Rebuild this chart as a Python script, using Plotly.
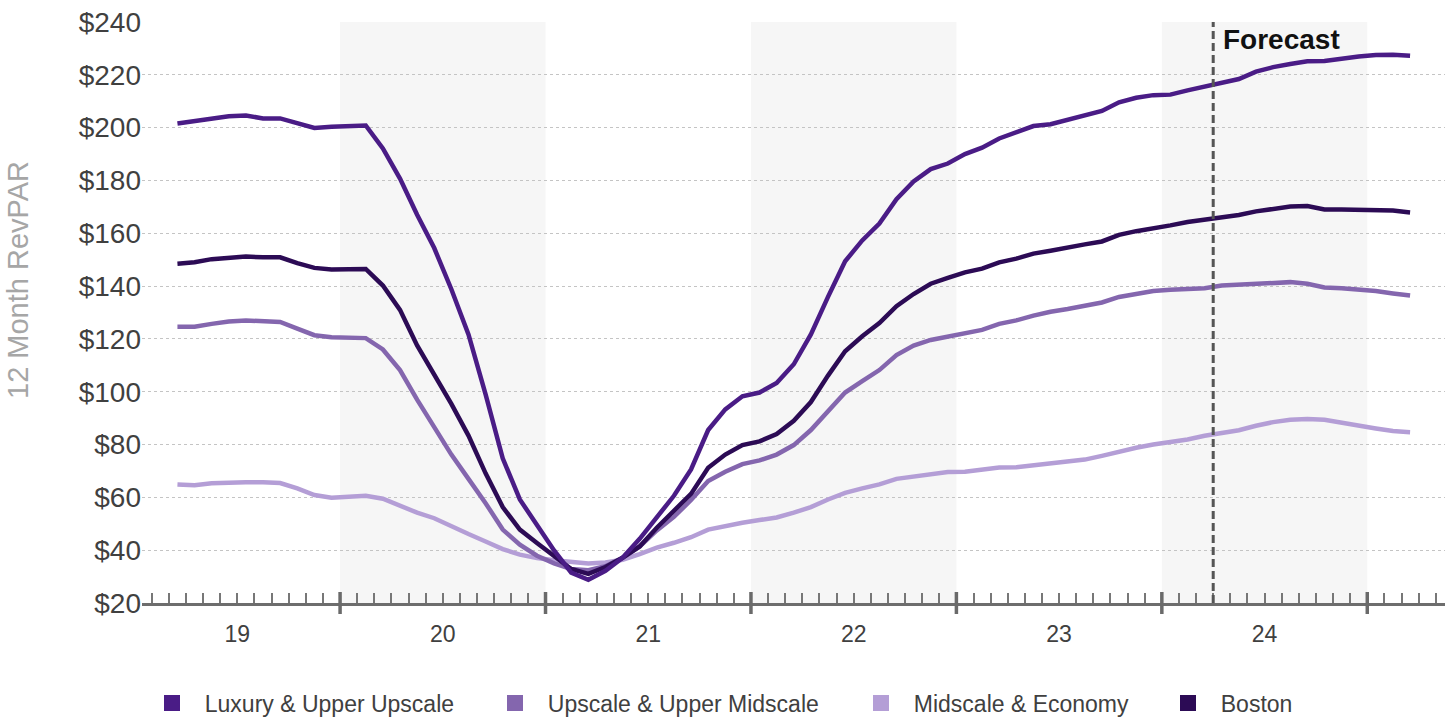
import plotly.graph_objects as go

# Month offsets from Jan 2019 (Mar 2019 .. Mar 2025); each value plotted mid-month
months = list(range(2, 75))

luxury = [201.6, 202.5, 203.8, 204.3, 204.6, 203.5, 203.5, 201.6, 199.9, 200.3, 200.6, 200.8,
          192.1, 180.7, 167.0, 154.4, 138.8, 121.7, 99.0, 74.8, 59.2, 49.4, 39.9, 31.5,
          28.8, 32.2, 37.1, 44.3, 52.7, 60.6, 70.6, 85.5, 93.3, 98.3, 99.7, 103.3,
          110.4, 121.7, 135.9, 149.4, 157.3, 163.7, 172.9, 179.6, 184.3, 186.4, 190.0, 192.4,
          195.9, 198.2, 200.6, 201.3, 203.0, 204.9, 206.3, 209.6, 211.3, 212.3, 212.5, 214.1,
          215.5, 217.3, 218.4, 221.2, 222.9, 224.1, 225.1, 225.2, 226.2, 226.9, 227.5, 227.6,
          227.2]

upscale = [124.6, 124.6, 125.7, 126.6, 127.0, 126.6, 126.4, 123.9, 121.4, 120.6, 120.3, 120.3,
           116.0, 108.2, 97.0, 86.2, 76.2, 67.0, 57.8, 47.8, 42.1, 37.9, 35.0, 32.9,
           32.4, 33.9, 37.1, 41.4, 47.5, 52.6, 59.0, 66.2, 69.7, 72.6, 74.0, 76.2,
           79.8, 85.5, 92.6, 99.7, 104.0, 108.2, 113.9, 117.5, 119.6, 121.0, 122.0, 123.4,
           125.7, 127.0, 128.8, 130.3, 131.3, 132.4, 133.8, 135.9, 137.1, 138.1, 138.6, 139.1,
           139.2, 140.2, 140.6, 140.9, 141.3, 141.5, 140.9, 139.5, 139.2, 138.8, 138.1, 137.2,
           136.4]

midscale = [64.9, 64.6, 65.3, 65.6, 65.7, 65.7, 65.4, 63.4, 60.9, 59.9, 60.3, 60.6,
            59.5, 56.8, 54.2, 52.1, 49.0, 46.1, 43.3, 40.4, 38.3, 37.0, 36.2, 35.5,
            35.0, 35.3, 36.4, 38.5, 41.0, 42.8, 44.9, 47.8, 49.2, 50.4, 51.4, 52.4,
            54.2, 56.3, 59.2, 61.7, 63.4, 64.9, 67.0, 68.0, 68.9, 69.6, 69.7, 70.3,
            71.3, 71.4, 72.1, 73.1, 73.7, 74.3, 75.7, 77.4, 78.8, 80.0, 80.8, 81.9,
            83.3, 84.3, 85.4, 87.1, 88.5, 89.4, 89.7, 89.4, 88.2, 87.1, 86.1, 85.1,
            84.7]

boston = [148.5, 149.0, 150.2, 150.7, 151.2, 150.9, 150.9, 148.7, 146.9, 146.3, 146.3, 146.5,
          140.2, 131.0, 117.5, 106.8, 95.4, 83.4, 69.1, 56.3, 47.8, 42.7, 37.7, 32.9,
          31.0, 33.6, 37.1, 41.4, 48.5, 54.9, 61.3, 71.2, 76.2, 79.8, 81.2, 84.0,
          89.0, 96.1, 106.1, 115.3, 121.0, 126.0, 132.4, 137.0, 140.9, 143.1, 145.2, 146.6,
          149.0, 150.4, 152.3, 153.4, 154.4, 155.8, 156.9, 159.4, 160.8, 161.8, 163.0, 164.3,
          165.1, 166.1, 166.9, 168.3, 169.4, 170.1, 170.3, 169.0, 169.0, 169.0, 168.9, 168.6,
          167.9]

year_labels = ["19", "20", "21", "22", "23", "24"]
shaded_years = [1, 3, 5]      # 2020, 2022, 2024
forecast_start = 63           # Apr 2024

series = [
    ("Luxury & Upper Upscale", luxury, "#4a1c86"),
    ("Upscale & Upper Midscale", upscale, "#8466ae"),
    ("Midscale & Economy", midscale, "#b49ed6"),
    ("Boston", boston, "#2c0b55"),
]

FONT = "Liberation Sans, Arial, sans-serif"
x_vals = [m + 0.5 for m in months]

fig = go.Figure()

# draw order: lightest first so the darker lines sit on top
for name, vals, color in [series[2], series[1], series[3], series[0]]:
    fig.add_trace(go.Scatter(
        x=x_vals, y=vals, mode="lines", name=name,
        line=dict(color=color, width=4.5), showlegend=False,
        hoverinfo="x+y",
    ))

# one legend per entry so each sits at its own spot along the bottom
legend_centers = [174, 517, 883, 1190]
L, R, T, B = 142, 11, 22, 114
plot_w = 1456 - L - R
plot_h = 717 - T - B
for i, ((name, vals, color), cx) in enumerate(zip(series, legend_centers)):
    key = "legend" if i == 0 else f"legend{i + 1}"
    fig.add_trace(go.Scatter(
        x=[None], y=[None], mode="markers", name="\u00a0\u00a0" + name,
        marker=dict(symbol="square", size=18, color=color),
        legend=key, showlegend=True,
    ))
    fig.update_layout({key: dict(
        orientation="h", x=(cx - 22 - L) / plot_w, xanchor="left",
        y=-(703 - (717 - B)) / plot_h, yanchor="middle", bgcolor="rgba(0,0,0,0)",
        font=dict(family=FONT, size=23, color="#404040"),
    )})

shapes = []
for yi in shaded_years:
    shapes.append(dict(type="rect", xref="x", yref="paper",
                       x0=12 * yi, x1=12 * yi + 12, y0=0, y1=1,
                       fillcolor="#f6f6f6", line=dict(width=0), layer="below"))
# year boundary ticks crossing the axis
for b in range(12, 76, 12):
    shapes.append(dict(type="line", xref="x", yref="paper",
                       x0=b, x1=b, y0=-11 / plot_h, y1=11 / plot_h,
                       line=dict(color="#6a6a6a", width=3.5), layer="above"))
shapes.append(dict(type="line", xref="x", yref="paper",
                   x0=forecast_start, x1=forecast_start, y0=0, y1=1,
                   line=dict(color="#555555", width=3, dash="8px,4px"), layer="above"))

fig.update_layout(
    width=1456, height=717,
    margin=dict(l=L, r=R, t=T, b=B, autoexpand=False),
    paper_bgcolor="white", plot_bgcolor="rgba(0,0,0,0)",
    shapes=shapes,
    xaxis=dict(
        range=[0.43, 76.54],
        tickvals=[12 * i + 6 for i in range(len(year_labels))],
        ticktext=year_labels,
        ticks="inside", ticklen=10, tickwidth=1.5, tickcolor="#777777",
        minor=dict(dtick=1, tick0=0, ticks="inside", ticklen=10,
                   tickwidth=1.5, tickcolor="#777777", showgrid=False),
        showgrid=False, zeroline=False,
        showline=True, linecolor="#6d6d6d", linewidth=3,
        tickfont=dict(family=FONT, size=23, color="#404040"),
        ticklabelstandoff=8,
    ),
    yaxis=dict(
        range=[20, 240], dtick=20, tick0=20, tickprefix="$",
        showgrid=True, gridcolor="#c4c4c4", gridwidth=1, griddash="dot",
        zeroline=False, showline=False, ticks="",
        tickfont=dict(family=FONT, size=28, color="#404040"),
    ),
    annotations=[
        dict(text="Forecast", xref="x", yref="paper", x=forecast_start, y=1 - (40 - T) / plot_h,
             xanchor="left", yanchor="middle", xshift=8, showarrow=False,
             font=dict(family=FONT, size=28, color="#111111", weight="bold")),
        dict(text="12 Month RevPAR", xref="paper", yref="paper",
             x=(18 - L) / plot_w, y=1 - (280 - T) / plot_h, textangle=-90,
             xanchor="center", yanchor="middle", showarrow=False,
             font=dict(family=FONT, size=29, color="#a6a6a6")),
    ],
)

fig.write_html("out.html")
